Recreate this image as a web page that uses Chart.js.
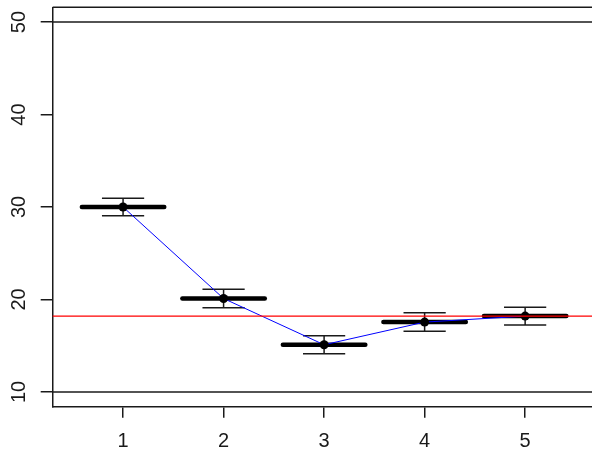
<!DOCTYPE html>
<html>
<head>
<meta charset="utf-8">
<script src="https://cdn.jsdelivr.net/npm/chart.js@4"></script>
<style>
  html, body { margin: 0; padding: 0; background: #fff; overflow: hidden; }
  #wrap { width: 592px; height: 452px; overflow: hidden; }
  canvas { display: block; }
</style>
</head>
<body>
<div id="wrap"><canvas id="c" width="600" height="452"></canvas></div>
<script>
// Group positions, group means and half-widths of the error bars
const groups = [1, 2, 3, 4, 5];
const means = [30, 20.1, 15.1, 17.55, 18.2];
const errors = [0.95, 1.0, 0.97, 1.0, 0.96];

// Horizontal reference lines and the overall level
const refLines = [10, 50];
const overallLevel = 18.2;

// Axis ticks
const xTicks = [1, 2, 3, 4, 5];
const yTicks = [10, 20, 30, 40, 50];

const LABEL_FONT = '20px "Liberation Sans", Arial, sans-serif';
const INK = '#1a1a1a';

// Reference lines, thick mean segments and error bars (under the series line)
const underlay = {
  id: 'underlay',
  beforeDatasetsDraw(chart) {
    const { ctx, chartArea: a, scales: { x, y } } = chart;
    ctx.save();
    ctx.beginPath();
    ctx.rect(a.left, a.top, a.right - a.left, a.bottom - a.top);
    ctx.clip();

    ctx.strokeStyle = INK;
    ctx.lineWidth = 1.5;
    refLines.forEach(v => {
      const py = y.getPixelForValue(v);
      ctx.beginPath();
      ctx.moveTo(a.left, py);
      ctx.lineTo(a.right, py);
      ctx.stroke();
    });

    groups.forEach((g, i) => {
      const px = x.getPixelForValue(g);
      const pm = y.getPixelForValue(means[i]);
      // thick segment at the mean
      ctx.strokeStyle = '#000';
      ctx.lineWidth = 4.5;
      ctx.lineCap = 'round';
      ctx.beginPath();
      ctx.moveTo(x.getPixelForValue(g - 0.41), pm);
      ctx.lineTo(x.getPixelForValue(g + 0.41), pm);
      ctx.stroke();

      // error bar
      const top = y.getPixelForValue(means[i] + errors[i]);
      const bot = y.getPixelForValue(means[i] - errors[i]);
      ctx.lineCap = 'butt';
      ctx.lineWidth = 1.5;
      ctx.strokeStyle = INK;
      ctx.beginPath();
      ctx.moveTo(px, top); ctx.lineTo(px, bot);
      ctx.moveTo(x.getPixelForValue(g - 0.21), top);
      ctx.lineTo(x.getPixelForValue(g + 0.21), top);
      ctx.moveTo(x.getPixelForValue(g - 0.21), bot);
      ctx.lineTo(x.getPixelForValue(g + 0.21), bot);
      ctx.stroke();
    });
    ctx.restore();
  },
  afterDatasetsDraw(chart) {
    const { ctx, chartArea: a, scales: { x, y } } = chart;
    ctx.save();
    // overall level in red
    const py = y.getPixelForValue(overallLevel);
    ctx.strokeStyle = '#ff0000';
    ctx.lineWidth = 1.2;
    ctx.beginPath();
    ctx.moveTo(a.left, py);
    ctx.lineTo(a.right, py);
    ctx.stroke();

    // top edge of the plot frame
    ctx.strokeStyle = INK;
    ctx.lineWidth = 1.5;
    ctx.beginPath();
    ctx.moveTo(a.left, a.top);
    ctx.lineTo(a.right, a.top);
    ctx.stroke();

    // y tick labels, rotated to read upwards
    ctx.fillStyle = INK;
    ctx.font = LABEL_FONT;
    ctx.textAlign = 'center';
    ctx.textBaseline = 'middle';
    y.ticks.forEach(t => {
      const ty = y.getPixelForValue(t.value);
      ctx.save();
      ctx.translate(19.5, ty);
      ctx.rotate(-Math.PI / 2);
      ctx.fillText(String(t.value), 0, 0);
      ctx.restore();
    });
    ctx.restore();
  }
};

new Chart(document.getElementById('c'), {
  type: 'scatter',
  data: {
    datasets: [{
      data: groups.map((g, i) => ({ x: g, y: means[i] })),
      showLine: true,
      borderColor: '#0000ff',
      borderWidth: 1,
      pointRadius: 4.5,
      pointBackgroundColor: '#000',
      pointBorderColor: '#000',
      pointBorderWidth: 0
    }]
  },
  options: {
    responsive: false,
    animation: false,
    devicePixelRatio: 1,
    layout: { padding: { top: 7.3, right: 1.5, left: 0, bottom: 0 } },
    plugins: { legend: { display: false }, tooltip: { enabled: false } },
    scales: {
      x: {
        type: 'linear',
        min: 0.3,
        max: 5.7,
        afterBuildTicks(scale) { scale.ticks = xTicks.map(v => ({ value: v })); },
        afterFit(scale) { scale.height = 452 - 406.7 - 7.3 + 7.3; },
        ticks: {
          color: INK,
          font: { family: '"Liberation Sans", Arial, sans-serif', size: 20 },
          padding: 12,
          maxRotation: 0,
          autoSkip: false
        },
        grid: { drawOnChartArea: false, drawTicks: true, tickLength: 11, color: INK, lineWidth: 1.5 },
        border: { display: true, color: INK, width: 1.5 }
      },
      y: {
        type: 'linear',
        min: 8.4,
        max: 51.6,
        afterBuildTicks(scale) { scale.ticks = yTicks.map(v => ({ value: v })); },
        afterFit(scale) { scale.width = 52.7; },
        ticks: { display: false },
        grid: { drawOnChartArea: false, drawTicks: true, tickLength: 12, color: INK, lineWidth: 1.5 },
        border: { display: true, color: INK, width: 1.5 }
      }
    }
  },
  plugins: [underlay]
});
</script>
</body>
</html>
